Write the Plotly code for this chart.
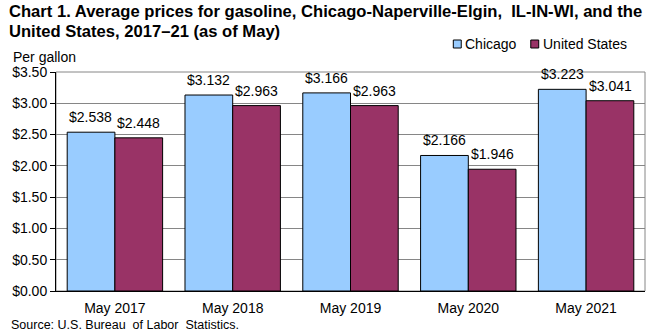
import plotly.graph_objects as go

categories = ["May 2017", "May 2018", "May 2019", "May 2020", "May 2021"]
chicago = [2.538, 3.132, 3.166, 2.166, 3.223]
us = [2.448, 2.963, 2.963, 1.946, 3.041]
tick_vals = [0, 0.5, 1.0, 1.5, 2.0, 2.5, 3.0, 3.5]
tick_text = ["$%.2f" % v for v in tick_vals]
series_names = ["Chicago", "United States"]
series_colors = ["#99CCFF", "#993366"]

font = "Liberation Sans, Arial, sans-serif"
W, H = 660, 334
L, R, T, B = 52, 15, 72, 43
BARGAP = 0.19

fig = go.Figure()
for name, vals, col in zip(series_names, [chicago, us], series_colors):
    fig.add_bar(x=categories, y=vals, name=name,
                marker=dict(color=col, line=dict(color="black", width=1)))

fig.update_layout(
    width=W, height=H,
    margin=dict(l=L, r=R, t=T, b=B),
    paper_bgcolor="white", plot_bgcolor="white",
    font=dict(family=font, size=14, color="black"),
    barmode="group", bargap=BARGAP, bargroupgap=0,
    showlegend=False,
)
fig.update_yaxes(range=[0, 3.5], tickvals=tick_vals, ticktext=tick_text,
                 showgrid=True, gridcolor="#868686", gridwidth=1,
                 showline=True, linecolor="black", linewidth=1,
                 ticks="outside", ticklen=5, tickcolor="black",
                 tickfont=dict(size=14), zeroline=False)
fig.update_xaxes(showline=True, linecolor="black", linewidth=1,
                 ticks="", tickfont=dict(size=14), ticklabelstandoff=4)
# plot border (top/right)
fig.add_shape(type="rect", xref="paper", yref="paper", x0=0, x1=1, y0=0, y1=1,
              line=dict(color="#868686", width=1), layer="below")

pw = W - L - R
ph = H - T - B
def px(x):
    return (x - L) / pw
def py(y):
    return (H - B - y) / ph

# data labels above bars (bar width in px from category width and gap)
bar_px = pw / len(categories) * (1 - BARGAP) / 2
for i, vals in enumerate([chicago, us]):
    shift = (i - 0.5) * bar_px
    for c, v in zip(categories, vals):
        fig.add_annotation(text="$%.3f" % v, x=c, y=v, xref="x", yref="y",
                           xanchor="center", yanchor="bottom", xshift=shift, yshift=5,
                           showarrow=False, font=dict(size=14))

# title
fig.add_annotation(text="<b>Chart 1. Average prices for gasoline, Chicago-Naperville-Elgin,  IL-IN-WI, and the</b>",
                   xref="paper", yref="paper", x=px(4), y=py(11), xanchor="left", yanchor="middle",
                   showarrow=False, font=dict(size=16.6), borderpad=0)
fig.add_annotation(text="<b>United States, 2017–21 (as of May)</b>",
                   xref="paper", yref="paper", x=px(4), y=py(31), xanchor="left", yanchor="middle",
                   showarrow=False, font=dict(size=16.6), borderpad=0)
# legend (manual)
legend_x = [452, 530]
for name, col, lx in zip(series_names, series_colors, legend_x):
    fig.add_shape(type="rect", xref="paper", yref="paper",
                  x0=px(lx), x1=px(lx + 8), y0=py(48), y1=py(40),
                  fillcolor=col, line=dict(color="black", width=1))
    fig.add_annotation(text=name, xref="paper", yref="paper", x=px(lx + 10), y=py(44),
                       xanchor="left", yanchor="middle", showarrow=False, font=dict(size=14))
fig.add_annotation(text="Per gallon", xref="paper", yref="paper", x=px(7), y=py(57),
                   xanchor="left", yanchor="middle", showarrow=False, font=dict(size=14))
fig.add_annotation(text="Source: U.S. Bureau  of Labor  Statistics.", xref="paper", yref="paper",
                   x=px(5), y=py(325), xanchor="left", yanchor="middle", showarrow=False,
                   font=dict(size=12.5))

fig.write_html("out.html")
